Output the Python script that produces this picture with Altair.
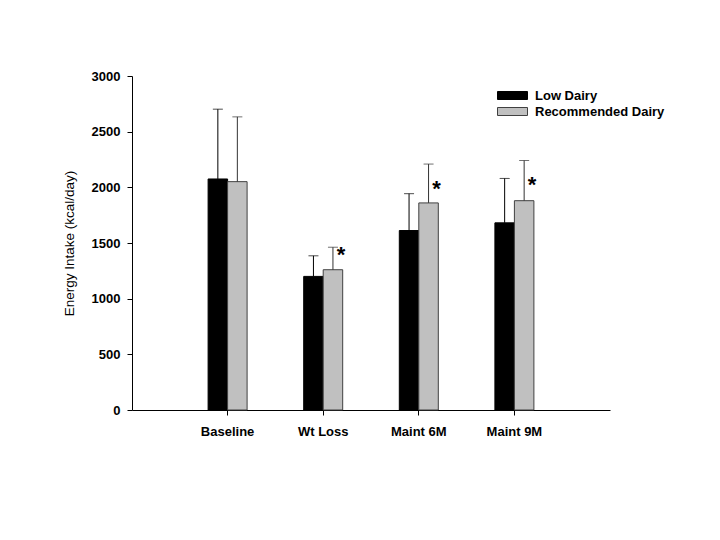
import altair as alt
import pandas as pd

categories = ["Baseline", "Wt Loss", "Maint 6M", "Maint 9M"]
groups = ["Low Dairy", "Recommended Dairy"]
low_mean = [2075, 1200, 1612, 1681]
low_sd = [627, 185, 331, 399]
rec_mean = [2051, 1260, 1860, 1880]
rec_sd = [582, 202, 349, 361]
rec_sig = ["", "*", "*", "*"]
sig_pos = [None, 1419, 2010, 2045]

rows = []
for i, c in enumerate(categories):
    rows.append({"cat": c, "grp": groups[0], "mean": low_mean[i], "top": low_mean[i] + low_sd[i],
                 "sig": "", "sigpos": None})
    rows.append({"cat": c, "grp": groups[1], "mean": rec_mean[i], "top": rec_mean[i] + rec_sd[i],
                 "sig": rec_sig[i], "sigpos": sig_pos[i]})
df = pd.DataFrame(rows)
star_df = df[df["sig"] != ""]

FONT = "Liberation Sans"

x = alt.X("cat:N", sort=categories, title=None,
          scale=alt.Scale(paddingInner=0, paddingOuter=0.5),
          axis=alt.Axis(labelAngle=0, labelFont=FONT, labelFontSize=13, labelFontWeight="bold",
                        labelColor="black", tickColor="black", domainColor="black",
                        tickSize=5, labelPadding=10, domainWidth=1))
xo = alt.XOffset("grp:N", sort=groups, scale=alt.Scale(type="band", paddingInner=0, paddingOuter=0,
                                                        range=[28.3, 67.3]))

bars = alt.Chart(df).mark_bar(strokeWidth=1).encode(
    x=x, xOffset=xo,
    y=alt.Y("mean:Q", title="Energy Intake (kcal/day)",
            scale=alt.Scale(domain=[0, 3000]),
            axis=alt.Axis(values=[0, 500, 1000, 1500, 2000, 2500, 3000], grid=False, format="d",
                          labelFont=FONT, labelFontSize=13, labelFontWeight="bold", labelColor="black",
                          titleFont=FONT, titleFontSize=13.5, titleFontWeight="normal", titleColor="black",
                          tickColor="black", domainColor="black", tickSize=5, labelPadding=7,
                          titlePadding=15)),
    fill=alt.Fill("grp:N", sort=groups,
                  scale=alt.Scale(domain=groups, range=["#000000", "#c0c0c0"]),
                  legend=alt.Legend(title=None, orient="none", legendX=372, legendY=11,
                                    symbolType="M-1.875,-0.5H1.875V0.5H-1.875Z", symbolSize=256,
                                    symbolStrokeWidth=1, labelFont=FONT, labelFontSize=13,
                                    labelFontWeight="bold", labelColor="black", labelOffset=14,
                                    rowPadding=0, padding=0)),
    stroke=alt.Stroke("grp:N", sort=groups,
                      scale=alt.Scale(domain=groups, range=["#000000", "#404040"]),
                      legend=None),
)

err = alt.Chart(df).mark_rule(strokeWidth=1).encode(
    x=x, xOffset=xo, y="mean:Q", y2="top:Q",
    color=alt.Color("grp:N", sort=groups, scale=alt.Scale(domain=groups, range=["#000000", "#333333"]), legend=None),
)

caps = alt.Chart(df).mark_tick(orient="horizontal", size=10, thickness=1).encode(
    x=x, xOffset=xo, y="top:Q",
    color=alt.Color("grp:N", sort=groups, scale=alt.Scale(domain=groups, range=["#000000", "#333333"]), legend=None),
)

stars = alt.Chart(star_df).mark_text(font=FONT, fontSize=22, fontWeight="bold", align="center",
                                     baseline="top", dx=8, dy=-7, color="black").encode(
    x=x, xOffset=xo, y="sigpos:Q", text="sig:N",
)

chart = alt.layer(bars, err, caps, stars).properties(
    width=478, height=334,
    autosize=alt.AutoSizeParams(type="none"),
    padding={"left": 124, "top": 68, "right": 80, "bottom": 100},
).configure(background="white", view=alt.ViewConfig(stroke=None))

chart.save("out.html", embed_options={"renderer": "svg", "actions": False})
